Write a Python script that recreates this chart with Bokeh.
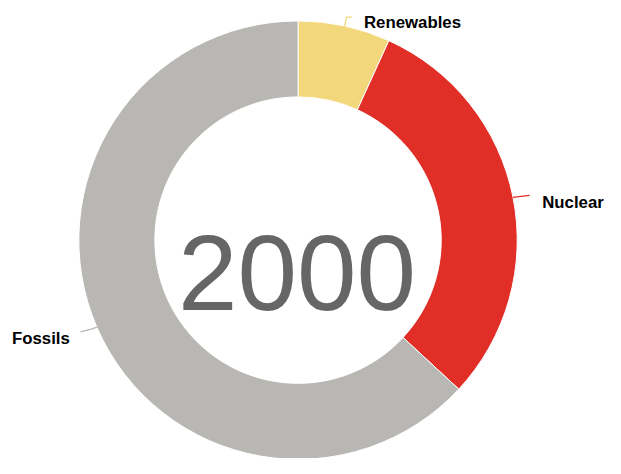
import math
from bokeh.plotting import figure
from bokeh.models import Range1d, ColumnDataSource
from bokeh.embed import file_html
from bokeh.resources import INLINE
from bokeh.core.properties import value

# ---- data ----
categories = ["Renewables", "Nuclear", "Fossils"]
shares = [6.8, 30.1, 63.1]
colors = ["#F3D87B", "#E12E27", "#B9B7B4"]
year_label = "2000"

# ---- layout: data space = reference pixel space (621 x 474, y flipped) ----
W, H = 605, 458
REF_W, REF_H = 621, 474
CX, CY = 305.4, REF_H - 248.0
R_OUT, R_IN = 225, 147
# connector and text offsets (ref px, +y downward) relative to slice edge point
label_layout = {
    "Renewables": dict(path=[(2, -11), (8, -11)], text=(20, -5), align="left"),
    "Nuclear":    dict(path=[(17, -2)],           text=(30, 5),  align="left"),
    "Fossils":    dict(path=[(-6, 2), (-17, 5)],  text=(-28, 12), align="right"),
}

p = figure(width=W, height=H, output_backend="svg", toolbar_location=None,
           x_range=Range1d(0, REF_W), y_range=Range1d(0, REF_H),
           min_border=0, tools="")
p.axis.visible = False
p.grid.visible = False
p.outline_line_color = None
p.background_fill_color = "white"
p.border_fill_color = "white"

total = sum(shares)
starts, ends, mids = [], [], []
cum = 0.0
for s in shares:
    a0 = math.pi / 2 - 2 * math.pi * cum / total
    cum += s
    a1 = math.pi / 2 - 2 * math.pi * cum / total
    starts.append(a0)
    ends.append(a1)
    mids.append((a0 + a1) / 2)

src = ColumnDataSource(dict(cat=categories, start=starts, end=ends, color=colors))
p.annular_wedge(x=CX, y=CY, inner_radius=R_IN, outer_radius=R_OUT,
                start_angle="start", end_angle="end", direction="clock",
                fill_color="color", line_color="white", line_width=1, source=src)

# labels with connectors
for cat, col, m in zip(categories, colors, mids):
    ex = CX + R_OUT * math.cos(m)
    ey = CY + R_OUT * math.sin(m)
    lay = label_layout[cat]
    xs = [ex] + [ex + dx for dx, dy in lay["path"]]
    ys = [ey] + [ey - dy for dx, dy in lay["path"]]
    p.line(xs, ys, line_color=col, line_width=1.3)
    tx, ty = lay["text"]
    p.text(x=[ex + tx], y=[ey - ty], text=[cat], text_align=lay["align"],
           text_baseline="alphabetic", text_font=value("Liberation Sans"),
           text_font_style="bold", text_font_size="16.8px", text_color="#000000")

# centre year
p.text(x=[CX - 1], y=[REF_H - 282], text=[year_label], text_align="center",
       text_baseline="alphabetic", text_font=value("Liberation Sans"),
       text_font_size="107px", text_color="#666666")

open("out.html", "w").write(file_html(p, INLINE))
